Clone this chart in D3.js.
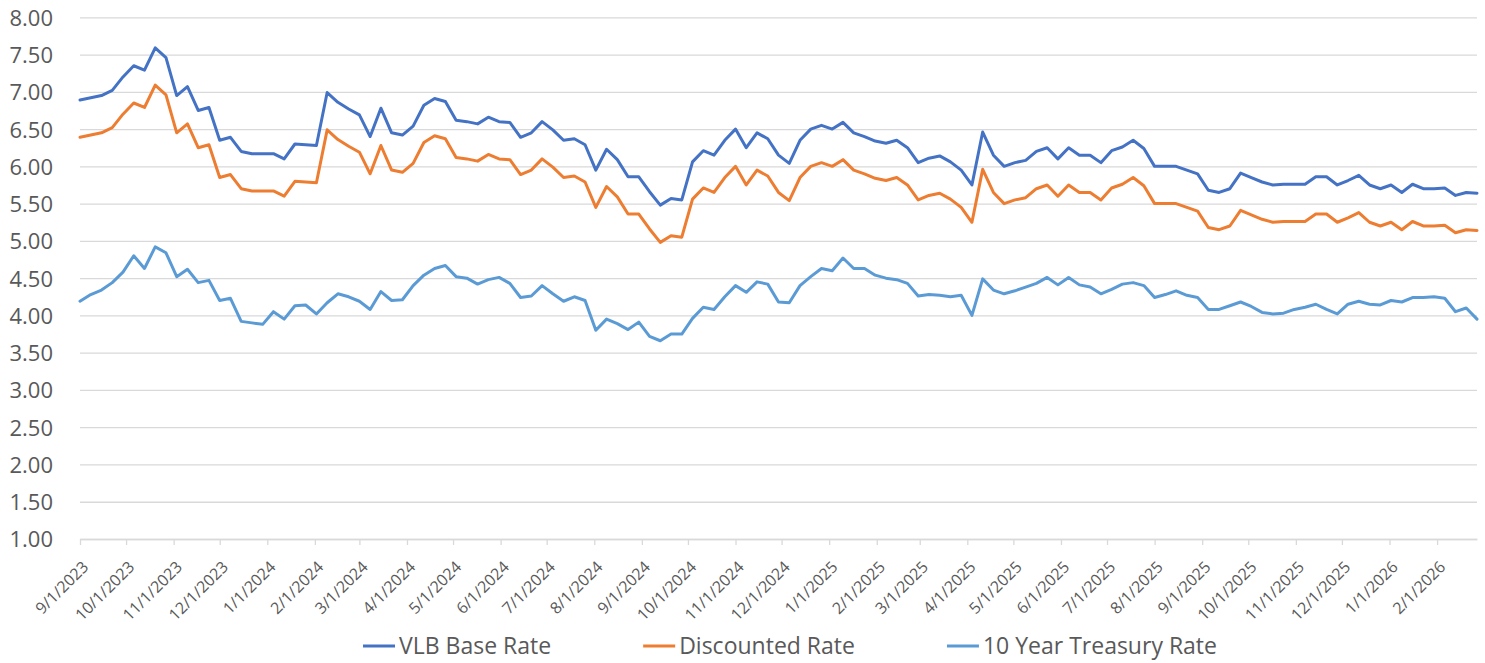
<!DOCTYPE html>
<html>
<head>
<meta charset="utf-8">
<script src="https://cdn.jsdelivr.net/npm/d3@7"></script>
<style>
  body { margin: 0; background: #ffffff; }
  text { font-family: 'Open Sans', sans-serif; fill: #595959; }
</style>
</head>
<body>
<svg id="chart" width="1485" height="663"></svg>
<script>
// ---------------- data ----------------
const seriesNames = ["VLB Base Rate", "Discounted Rate", "10 Year Treasury Rate"];
const seriesColors = ["#4472C4", "#ED7D31", "#5B9BD5"];
const firstDate = "9/1/2023";   // weekly observations start here
const xTickLabels = ["9/1/2023","10/1/2023","11/1/2023","12/1/2023","1/1/2024","2/1/2024","3/1/2024",
  "4/1/2024","5/1/2024","6/1/2024","7/1/2024","8/1/2024","9/1/2024","10/1/2024","11/1/2024",
  "12/1/2024","1/1/2025","2/1/2025","3/1/2025","4/1/2025","5/1/2025","6/1/2025","7/1/2025",
  "8/1/2025","9/1/2025","10/1/2025","11/1/2025","12/1/2025","1/1/2026","2/1/2026"];
const yTickLabels = ["1.00","1.50","2.00","2.50","3.00","3.50","4.00","4.50","5.00","5.50",
  "6.00","6.50","7.00","7.50","8.00"];

const vlbBaseRate = [
  6.89,6.92,6.95,7.02,7.20,7.35,7.29,7.59,7.46,6.95,
  7.07,6.75,6.79,6.35,6.39,6.20,6.17,6.17,6.17,6.10,
  6.30,6.29,6.28,6.99,6.86,6.77,6.69,6.40,6.78,6.45,
  6.42,6.54,6.82,6.91,6.87,6.62,6.60,6.57,6.66,6.60,
  6.59,6.39,6.45,6.60,6.49,6.35,6.37,6.29,5.95,6.23,
  6.09,5.86,5.86,5.66,5.48,5.57,5.55,6.06,6.21,6.15,
  6.35,6.50,6.25,6.45,6.37,6.15,6.04,6.35,6.50,6.55,
  6.50,6.59,6.45,6.40,6.34,6.31,6.35,6.25,6.05,6.11,
  6.14,6.06,5.95,5.75,6.46,6.15,6.00,6.05,6.08,6.20,
  6.25,6.10,6.25,6.15,6.15,6.05,6.21,6.26,6.35,6.24,
  6.00,6.00,6.00,5.95,5.90,5.68,5.65,5.70,5.91,5.85,
  5.79,5.75,5.76,5.76,5.76,5.86,5.86,5.75,5.81,5.88,
  5.75,5.70,5.75,5.65,5.76,5.70,5.70,5.71,5.61,5.65,
  5.64];

const discountedRate = [
  6.39,6.42,6.45,6.52,6.70,6.85,6.79,7.09,6.96,6.45,
  6.57,6.25,6.29,5.85,5.89,5.70,5.67,5.67,5.67,5.60,
  5.80,5.79,5.78,6.49,6.36,6.27,6.19,5.90,6.28,5.95,
  5.92,6.04,6.32,6.41,6.37,6.12,6.10,6.07,6.16,6.10,
  6.09,5.89,5.95,6.10,5.99,5.85,5.87,5.79,5.45,5.73,
  5.59,5.36,5.36,5.16,4.98,5.07,5.05,5.56,5.71,5.65,
  5.85,6.00,5.75,5.95,5.87,5.65,5.54,5.85,6.00,6.05,
  6.00,6.09,5.95,5.90,5.84,5.81,5.85,5.75,5.55,5.61,
  5.64,5.56,5.45,5.25,5.96,5.65,5.50,5.55,5.58,5.70,
  5.75,5.60,5.75,5.65,5.65,5.55,5.71,5.76,5.85,5.74,
  5.50,5.50,5.50,5.45,5.40,5.18,5.15,5.20,5.41,5.35,
  5.29,5.25,5.26,5.26,5.26,5.36,5.36,5.25,5.31,5.38,
  5.25,5.20,5.25,5.15,5.26,5.20,5.20,5.21,5.11,5.15,
  5.14];

const treasuryRate = [
  4.19,4.28,4.34,4.44,4.58,4.80,4.63,4.92,4.84,4.52,
  4.62,4.44,4.47,4.20,4.23,3.92,3.90,3.88,4.05,3.95,
  4.13,4.14,4.02,4.17,4.29,4.25,4.19,4.08,4.32,4.20,
  4.21,4.40,4.54,4.63,4.67,4.52,4.50,4.42,4.48,4.51,
  4.43,4.24,4.26,4.40,4.29,4.19,4.25,4.20,3.80,3.95,
  3.89,3.81,3.91,3.72,3.66,3.75,3.75,3.96,4.11,4.08,
  4.25,4.40,4.31,4.45,4.42,4.18,4.17,4.40,4.52,4.63,
  4.60,4.77,4.63,4.63,4.54,4.50,4.48,4.43,4.26,4.28,
  4.27,4.25,4.27,4.00,4.49,4.34,4.29,4.33,4.38,4.43,
  4.51,4.41,4.51,4.41,4.38,4.29,4.35,4.42,4.44,4.40,
  4.24,4.28,4.33,4.27,4.24,4.08,4.08,4.13,4.18,4.12,
  4.04,4.02,4.03,4.08,4.11,4.15,4.08,4.02,4.15,4.19,
  4.15,4.14,4.20,4.18,4.24,4.24,4.25,4.23,4.05,4.10,
  3.95];

// ---------------- layout ----------------
const plotLeft = 80, plotRight = 1477, plotTop = 17.3, plotBottom = 539;
const gridColor = "#D9D9D9";

const parse = d3.timeParse("%-m/%-d/%Y");
const start = parse(firstDate);
const dates = vlbBaseRate.map((_, i) => d3.timeDay.offset(start, 7 * i));
const tickDates = xTickLabels.map(parse);
const yTickValues = yTickLabels.map(Number);

const x = d3.scaleTime().domain([dates[0], dates[dates.length - 1]]).range([plotLeft, plotRight]);
const y = d3.scaleLinear().domain([1, 8]).range([plotBottom, plotTop]);

const svg = d3.select("#chart");
svg.append("rect").attr("width", 1485).attr("height", 663).attr("fill", "#ffffff");

// y axis with gridlines
const yAxis = svg.append("g")
  .attr("transform", `translate(${plotLeft},0)`)
  .call(d3.axisLeft(y).tickValues(yTickValues).tickSize(-(plotRight - plotLeft))
        .tickFormat((d, i) => yTickLabels[i]));
yAxis.select(".domain").remove();
yAxis.selectAll(".tick line").attr("stroke", gridColor).attr("stroke-width", 1.3);
yAxis.selectAll(".tick text")
  .attr("x", -27).attr("dy", "0.36em")
  .style("font-size", "22px").style("fill", "#595959");

// x axis
const xAxis = svg.append("g")
  .attr("transform", `translate(0,${plotBottom})`)
  .call(d3.axisBottom(x).tickValues(tickDates).tickSize(6).tickSizeOuter(0)
        .tickFormat((d, i) => xTickLabels[i]));
xAxis.select(".domain").attr("stroke", gridColor).attr("stroke-width", 1.5);
xAxis.selectAll(".tick line").attr("stroke", gridColor).attr("stroke-width", 1.3);
xAxis.selectAll(".tick text")
  .attr("x", null).attr("y", null).attr("dy", "0.35em")
  .attr("text-anchor", "end")
  .attr("transform", "translate(5,25) rotate(-45)")
  .style("font-size", "16px").style("fill", "#595959");

// lines
const seriesData = [vlbBaseRate, discountedRate, treasuryRate];
const line = d3.line().x((d, i) => x(dates[i])).y(d => y(d));
svg.append("g").selectAll("path")
  .data(seriesData)
  .join("path")
  .attr("d", line)
  .attr("fill", "none")
  .attr("stroke", (d, i) => seriesColors[i])
  .attr("stroke-width", 3)
  .attr("stroke-linejoin", "round")
  .attr("stroke-linecap", "round");

// legend
const legend = svg.append("g").attr("transform", "translate(0,646)");
const items = legend.selectAll("g").data(seriesNames).join("g");
items.append("line").attr("x1", 0).attr("x2", 32).attr("y1", 0).attr("y2", 0)
  .attr("stroke", (d, i) => seriesColors[i]).attr("stroke-width", 3);
items.append("text").attr("x", 36).attr("dy", "0.36em")
  .style("font-size", "23px").text(d => d);
let widths = [];
items.each(function () { widths.push(36 + this.querySelector("text").getComputedTextLength()); });
const gap = 92;
const total = d3.sum(widths) + gap * (widths.length - 1);
let cx = 790 - total / 2;
items.each(function (d, i) {
  d3.select(this).attr("transform", `translate(${cx},0)`);
  cx += widths[i] + gap;
});
</script>
</body>
</html>
